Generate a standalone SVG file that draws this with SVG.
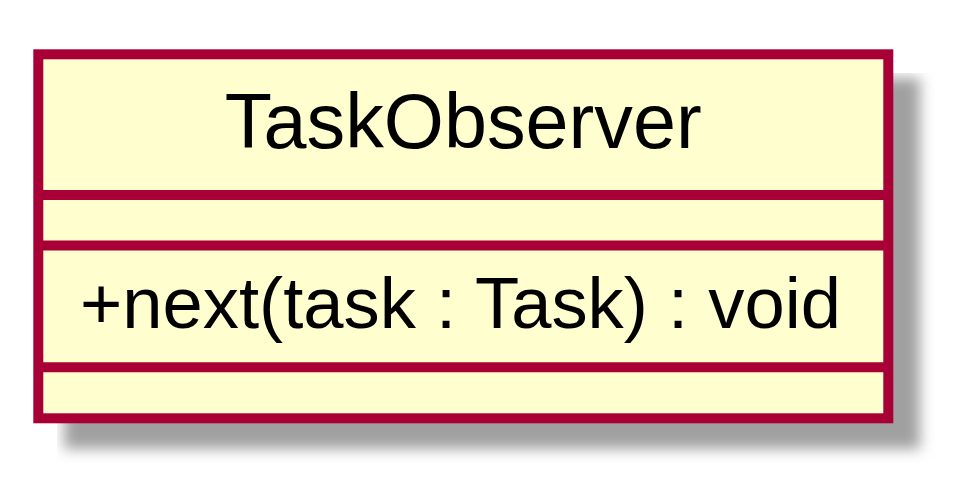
<svg xmlns="http://www.w3.org/2000/svg" width="958" height="488" viewBox="0 0 958 488">
<style>
.box{fill:#FEFECE;stroke:#A80036;stroke-width:10}
.sep{stroke:#A80036;stroke-width:10}
.t{font-family:"Liberation Sans",Arial,Helvetica,sans-serif;fill:#000000}
</style>
<defs>
<filter id="sh" filterUnits="userSpaceOnUse" x="57" y="73" width="901" height="415">
<feGaussianBlur stdDeviation="7"/>
</filter>
</defs>
<rect width="958" height="488" fill="#FFFFFF"/>
<g id="TaskObserver">
<rect x="64" y="78" width="856" height="371" fill="#A0A0A0" filter="url(#sh)"/>
<rect class="box" x="38.3" y="54.3" width="850" height="364"/>
<line class="sep" x1="38.3" y1="195" x2="888.3" y2="195"/>
<line class="sep" x1="38.3" y1="245.5" x2="888.3" y2="245.5"/>
<line class="sep" x1="38.3" y1="367.2" x2="888.3" y2="367.2"/>
<text class="t" x="463.3" y="148.3" font-size="77" text-anchor="middle" textLength="477" lengthAdjust="spacingAndGlyphs">TaskObserver</text>
<text class="t" x="80" y="328.3" font-size="72" textLength="761" lengthAdjust="spacingAndGlyphs">+next(task : Task) : void</text>
</g>
<g id="connectors"/>
</svg>
